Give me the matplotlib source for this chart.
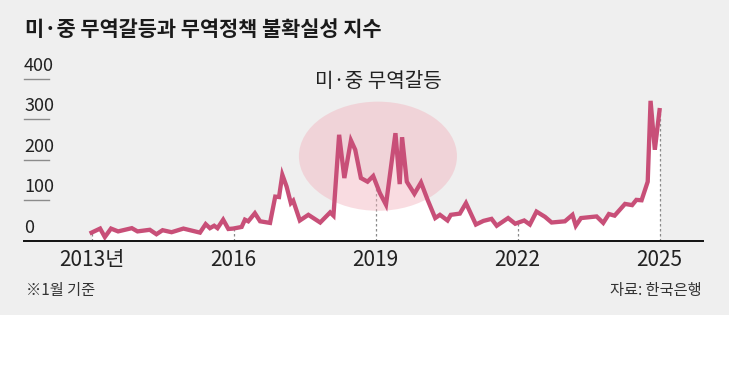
import numpy as np
import matplotlib
matplotlib.use("Agg")
import matplotlib.pyplot as plt
from matplotlib.patches import Ellipse, Rectangle
from matplotlib.transforms import blended_transform_factory, offset_copy

# trade policy uncertainty index (decimal year, value)
years = [2013.00, 2013.18, 2013.28, 2013.41, 2013.56, 2013.85, 2013.97, 2014.23, 2014.37, 2014.50,
         2014.69, 2014.94, 2015.29, 2015.41, 2015.50, 2015.59, 2015.66, 2015.78, 2015.89, 2015.99,
         2016.17, 2016.24, 2016.31, 2016.45, 2016.56, 2016.77, 2016.88, 2016.96, 2017.03, 2017.12,
         2017.21, 2017.26, 2017.40, 2017.58, 2017.83, 2018.04, 2018.11, 2018.23, 2018.34, 2018.48,
         2018.57, 2018.69, 2018.83, 2018.95, 2019.09, 2019.22, 2019.42, 2019.51, 2019.56, 2019.66,
         2019.82, 2019.96, 2020.10, 2020.26, 2020.36, 2020.52, 2020.59, 2020.78, 2020.91, 2021.12,
         2021.28, 2021.45, 2021.56, 2021.80, 2021.95, 2022.14, 2022.26, 2022.40, 2022.58, 2022.72,
         2023.00, 2023.16, 2023.23, 2023.34, 2023.67, 2023.81, 2023.93, 2024.05, 2024.27, 2024.42,
         2024.51, 2024.62, 2024.75, 2024.81, 2024.90, 2025.00]
index = [20, 30, 9, 30, 23, 31, 23, 27, 16, 26,
         21, 30, 20, 41, 31, 37, 31, 52, 29, 30,
         34, 52, 48, 68, 48, 44, 109, 108, 163, 134,
         93, 99, 50, 64, 45, 70, 62, 262, 155, 248,
         225, 155, 146, 160, 118, 89, 266, 140, 256, 146,
         116, 144, 101, 56, 64, 50, 64, 67, 93, 40,
         49, 54, 37, 56, 42, 50, 40, 72, 59, 45,
         48, 64, 37, 56, 60, 44, 66, 62, 91, 88,
         101, 100, 146, 346, 225, 323]

tick_years = [2013, 2016, 2019, 2022, 2025]
tick_labels = ["2013년", "2016", "2019", "2022", "2025"]
y_ticks = [0, 100, 200, 300, 400]

title = "미·중 무역갈등과 무역정책 불확실성 지수"
note = "※1월 기준"
source = "자료: 한국은행"
highlight = "미·중 무역갈등"

bg = "#efefef"
line_color = "#c84f78"
narrow = ["Liberation Sans Narrow", "Noto Sans CJK KR"]
kr = ["Noto Sans CJK KR", "DejaVu Sans"]

W, H = 729, 382
fig = plt.figure(figsize=(W / 100, H / 100), dpi=100)
fig.patch.set_facecolor("white")
fig.patches.append(Rectangle((0, (H - 315) / H), 1, 315 / H, transform=fig.transFigure,
                             facecolor=bg, edgecolor="none", zorder=-10))

ax = fig.add_axes([24 / W, (H - 240.7) / H, (703 - 24) / W, (240.7 - 79) / H])
ax.set_facecolor("none")
ax.set_xlim(2011.572, 2025.918)
ax.set_ylim(0, 400)
for s in ["left", "right", "top"]:
    ax.spines[s].set_visible(False)
ax.spines["bottom"].set_color("#111111")
ax.spines["bottom"].set_linewidth(1.4)
ax.spines["bottom"].set_zorder(6)
ax.set_yticks([])
ax.set_xticks(tick_years)
ax.set_xticklabels(tick_labels, fontfamily=narrow, fontsize=15, color="#222222")
ax.tick_params(axis="x", length=0, pad=6)

# white area under the line
ax.fill_between(years, index, 0, color="white", lw=0, zorder=1)

# dotted year guides inside the white area
for yr in tick_years:
    ax.plot([yr, yr], [0, np.interp(yr, years, index)], color="#8a8a8a", lw=0.9,
            ls=(0, (2, 2)), zorder=2)

ax.add_patch(Ellipse((2019.05, 209), 3.34, 270, facecolor="#f2b3bd", alpha=0.45,
                     edgecolor="none", zorder=3))

ax.plot(years, index, color=line_color, lw=3.1, solid_joinstyle="miter", zorder=4)

ax.text(2019.05, 395, highlight, ha="center", va="center", fontsize=14.5,
        fontfamily=kr, color="#222222", zorder=5)

# y labels sitting on short grey rules
trans = blended_transform_factory(ax.transAxes, ax.transData)
for v in y_ticks:
    if v > 0:
        ax.plot([0, 25 / (703 - 24)], [v, v], transform=trans, color="#8c8c8c", lw=1,
                clip_on=False, zorder=2)
    ax.text(0, v, str(v), transform=offset_copy(trans, fig=fig, x=0, y=3, units="points"),
            ha="left", va="bottom", fontsize=13, fontfamily=narrow, color="#222222")

fig.text(25 / W, 1 - 29 / H, title, ha="left", va="center", fontsize=15,
         fontweight="bold", fontfamily=kr, color="#1a1a1a")
fig.text(26 / W, 1 - 291 / H, note, ha="left", va="center", fontsize=11,
         fontfamily=kr, color="#333333")
fig.text(702 / W, 1 - 291 / H, source, ha="right", va="center", fontsize=11,
         fontfamily=kr, color="#333333")

fig.savefig("out.png", dpi=100, facecolor=fig.get_facecolor())
